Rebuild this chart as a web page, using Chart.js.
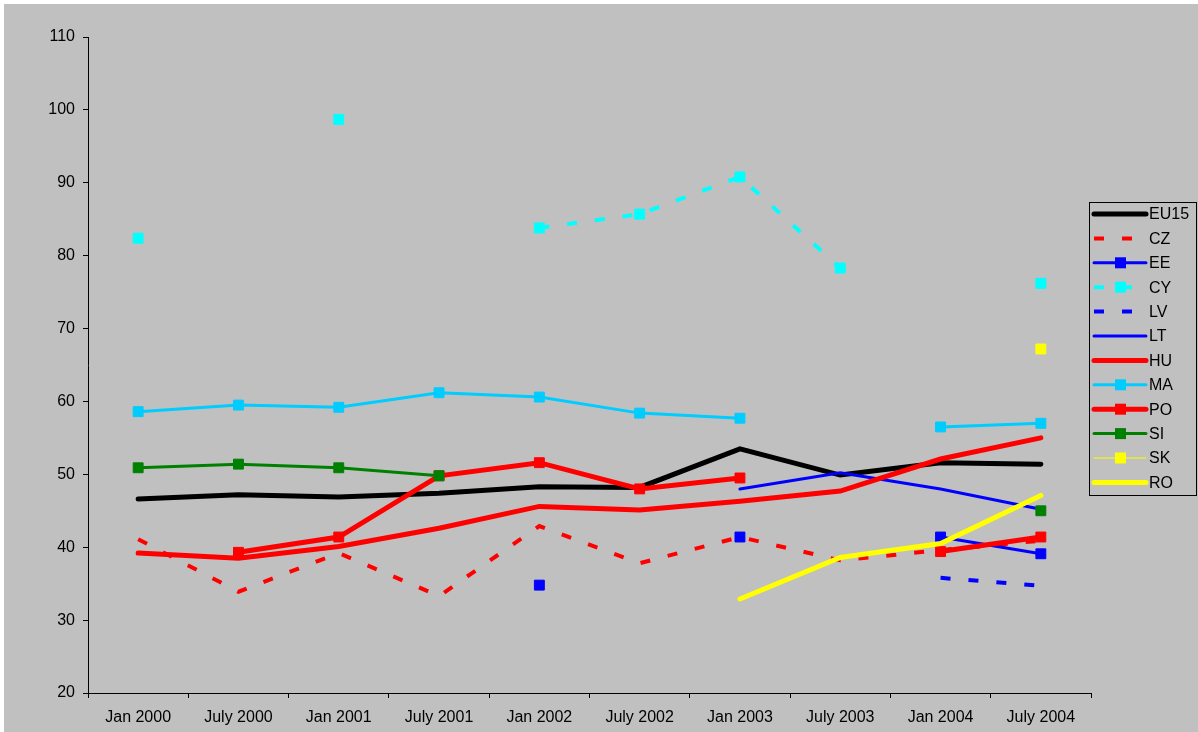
<!DOCTYPE html>
<html>
<head>
<meta charset="utf-8">
<script src="https://cdn.jsdelivr.net/npm/chart.js@4.4.1/dist/chart.umd.min.js"></script>
<style>
  html, body { margin: 0; padding: 0; background: #ffffff; }
  canvas { display: block; }
</style>
</head>
<body>
<canvas id="chart" width="1198" height="732"></canvas>
<script>
var labels = ['Jan 2000', 'July 2000', 'Jan 2001', 'July 2001', 'Jan 2002', 'July 2002', 'Jan 2003', 'July 2003', 'Jan 2004', 'July 2004'];

var eu15 = [46.6, 47.2, 46.9, 47.4, 48.3, 48.2, 53.5, 49.9, 51.6, 51.4];
var cz   = [41.1, 33.9, 39.2, 33.3, 42.9, 37.8, 41.4, 38.2, 39.6, 40.9];
var ee   = [null, null, null, null, 34.8, null, 41.4, null, 41.4, 39.1];
var cy   = [82.4, null, 98.7, null, 83.8, 85.7, 90.8, 78.3, null, 76.2];
var lv   = [null, null, null, null, null, null, null, null, 35.8, 34.7];
var lt   = [null, null, null, null, null, null, 48.0, 50.2, 48.0, 45.2];
var hu   = [39.2, 38.5, 40.1, 42.6, 45.6, 45.1, 46.3, 47.7, 52.1, 55.0];
var ma   = [58.6, 59.5, 59.2, 61.2, 60.6, 58.4, 57.7, null, 56.5, 57.0];
var po   = [null, 39.3, 41.4, 49.8, 51.6, 48.0, 49.5, null, 39.4, 41.4];
var si   = [50.9, 51.4, 50.9, 49.8, null, null, null, null, null, 45.0];
var sk   = [null, null, null, null, null, null, null, null, null, 67.2];
var ro   = [null, null, null, null, null, null, 32.9, 38.6, 40.5, 47.1];

var FONT = "'Liberation Sans', Arial, sans-serif";

function series(label, data, color, width, dash, marker) {
    return {
        label: label,
        data: data,
        borderColor: color,
        backgroundColor: color,
        borderWidth: width,
        borderDash: dash,
        borderCapStyle: dash.length ? 'butt' : 'round',
        tension: 0,
        pointStyle: 'rect',
        pointRadius: marker ? 7 : 0,
        pointHoverRadius: marker ? 7 : 0,
        pointBorderWidth: 1,
        pointBorderColor: color,
        pointBackgroundColor: color,
        fill: false
    };
}

var datasets = [
    series('EU15', eu15, '#000000', 5, [], false),
    series('CZ', cz, '#ff0000', 4, [10, 18], false),
    series('EE', ee, '#0000ff', 3, [], true),
    series('CY', cy, '#00ffff', 4, [10, 18], true),
    series('LV', lv, '#0000ff', 4, [10, 18], false),
    series('LT', lt, '#0000ff', 3, [], false),
    series('HU', hu, '#ff0000', 5, [], false),
    series('MA', ma, '#00ccff', 3, [], true),
    series('PO', po, '#ff0000', 5, [], true),
    series('SI', si, '#008000', 3, [], true),
    series('SK', sk, '#ffff00', 1, [], true),
    series('RO', ro, '#ffff00', 5, [], false)
];
// later series drawn on top, as in the original
datasets.forEach(function (d, i) { d.order = datasets.length - i; });

var background = {
    id: 'background',
    beforeDraw: function (chart) {
        var ctx = chart.ctx;
        ctx.save();
        ctx.fillStyle = '#c0c0c0';
        ctx.fillRect(4, 4, chart.width - 4, chart.height - 4);
        ctx.restore();
    }
};

var boxLegend = {
    id: 'boxLegend',
    afterDraw: function (chart) {
        var ctx = chart.ctx;
        ctx.save();
        ctx.strokeStyle = '#000000';
        ctx.lineWidth = 1;
        ctx.strokeRect(1089.5, 202.5, 107, 293);
        ctx.font = '16px ' + FONT;
        ctx.textBaseline = 'middle';
        ctx.textAlign = 'left';
        chart.data.datasets.forEach(function (d, i) {
            var y = 214 + i * 24.4;
            ctx.beginPath();
            ctx.strokeStyle = d.borderColor;
            ctx.lineWidth = d.borderWidth;
            ctx.lineCap = d.borderDash.length ? 'butt' : 'round';
            ctx.setLineDash(d.borderDash);
            ctx.moveTo(1094, y);
            ctx.lineTo(1146, y);
            ctx.stroke();
            ctx.setLineDash([]);
            if (d.pointRadius > 0) {
                ctx.fillStyle = d.pointBackgroundColor;
                ctx.fillRect(1115, y - 5.5, 11, 11);
            }
            ctx.fillStyle = '#000000';
            ctx.fillText(d.label, 1149, y + 1);
        });
        ctx.restore();
    }
};

var ctx = document.getElementById('chart').getContext('2d');
var chart = new Chart(ctx, {
    type: 'line',
    data: {
        labels: labels,
        datasets: datasets
    },
    options: {
        responsive: false,
        animation: false,
        events: [],
        layout: {
            padding: { left: 0, top: 37, right: 107, bottom: 0 }
        },
        plugins: {
            legend: { display: false },
            tooltip: { enabled: false },
            title: { display: false }
        },
        scales: {
            x: {
                offset: true,
                grid: {
                    offset: true,
                    drawOnChartArea: false,
                    drawTicks: true,
                    tickLength: 5,
                    color: '#000000'
                },
                border: { display: true, color: '#000000', width: 1 },
                ticks: {
                    color: '#000000',
                    padding: 10,
                    maxRotation: 0,
                    autoSkip: false,
                    font: { family: FONT, size: 16 }
                },
                afterFit: function (scale) { scale.height = 39; }
            },
            y: {
                min: 20,
                max: 110,
                grid: {
                    drawOnChartArea: false,
                    drawTicks: true,
                    tickLength: 5,
                    color: '#000000'
                },
                border: { display: true, color: '#000000', width: 1 },
                ticks: {
                    stepSize: 10,
                    color: '#000000',
                    padding: 8,
                    font: { family: FONT, size: 16 }
                },
                afterFit: function (scale) { scale.width = 88; }
            }
        }
    },
    plugins: [background, boxLegend]
});
</script>
</body>
</html>
